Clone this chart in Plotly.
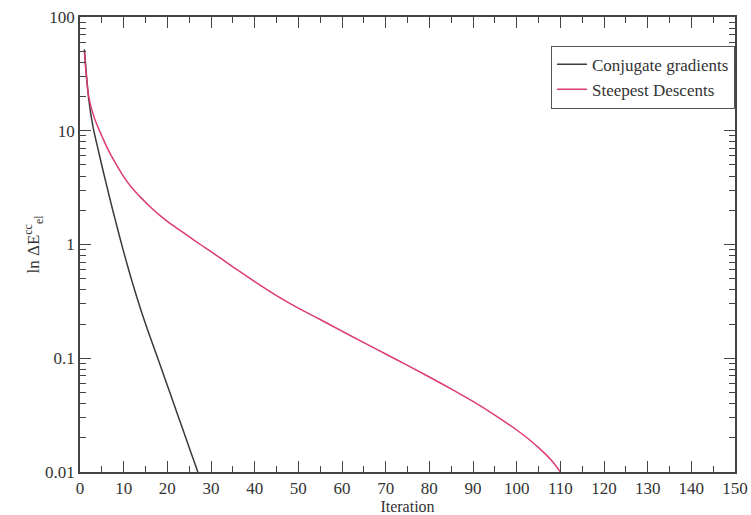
import plotly.graph_objects as go

# Convergence of the electronic energy error per iteration
cg_iter = list(range(1, 28))
cg_energy = [52, 19, 10.7, 7.24, 4.95, 3.43, 2.39, 1.69, 1.20, 0.861, 0.627,
             0.462, 0.346, 0.262, 0.201, 0.156, 0.122, 0.0953, 0.0741, 0.0577,
             0.0449, 0.0349, 0.0272, 0.0211, 0.0164, 0.0128, 0.00995]

sd_iter = [1, 2, 3, 4, 5, 6, 7, 8, 9, 10, 11, 12, 13, 14, 16, 18, 20, 22, 24,
           26, 28, 30, 35, 40, 45, 50, 55, 60, 65, 70, 75, 80, 85, 90, 95,
           100, 103, 106, 108, 110]
sd_energy = [50.1, 20.0, 14.0, 11.0, 9.0, 7.4, 6.2, 5.3, 4.55, 3.95, 3.48,
             3.12, 2.82, 2.57, 2.16, 1.84, 1.60, 1.41, 1.245, 1.10, 0.975,
             0.865, 0.637, 0.472, 0.356, 0.276, 0.219, 0.173, 0.137, 0.109,
             0.0867, 0.0684, 0.0537, 0.0417, 0.0316, 0.0234, 0.0191, 0.0151,
             0.0126, 0.0100]

x_ticks = list(range(0, 151, 10))
x_minor = list(range(5, 150, 10))
y_ticks = [0.01, 0.1, 1, 10, 100]
y_labels = ["0.01", "0.1", "1", "10", "100"]
y_minor = [m * 10 ** e for e in range(-2, 2) for m in range(2, 10)]

font_family = "'Liberation Serif', 'Times New Roman', 'DejaVu Serif', serif"
axis_color = "#444444"

fig = go.Figure()
fig.add_trace(go.Scatter(
    x=cg_iter, y=cg_energy, mode="lines", name="Conjugate gradients",
    line=dict(color="#3a3a3a", width=1.5, shape="spline", smoothing=0.8),
))
fig.add_trace(go.Scatter(
    x=sd_iter, y=sd_energy, mode="lines", name="Steepest Descents",
    line=dict(color="#dc3c6c", width=1.5, shape="spline", smoothing=1.0),
))

fig.update_layout(
    width=751, height=515,
    margin=dict(l=80, r=16, t=17, b=43),
    paper_bgcolor="white", plot_bgcolor="white",
    font=dict(family=font_family, size=17, color="#333333"),
    showlegend=True,
    legend=dict(
        x=1, xanchor="right", y=0.937, yanchor="top",
        bordercolor="#555555", borderwidth=1, bgcolor="white",
        font=dict(family=font_family, size=17, color="#333333"),
        itemwidth=30, tracegroupgap=0,
    ),
    xaxis=dict(
        range=[0, 150], tickmode="array", tickvals=x_ticks,
        ticks="inside", ticklen=11, tickwidth=1.3, tickcolor=axis_color,
        minor=dict(tickmode="array", tickvals=x_minor, ticks="inside",
                   ticklen=6, tickwidth=1.3, tickcolor=axis_color),
        showline=True, linecolor=axis_color, linewidth=1.5, mirror="allticks",
        showgrid=False, zeroline=False, automargin=False,
        tickfont=dict(size=17),
        title=dict(text="Iteration", font=dict(size=16), standoff=5),
    ),
    yaxis=dict(
        type="log", range=[-2, 2], tickmode="array",
        tickvals=y_ticks, ticktext=y_labels,
        ticks="inside", ticklen=11, tickwidth=1.3, tickcolor=axis_color,
        minor=dict(tickmode="array", tickvals=y_minor, ticks="inside",
                   ticklen=6, tickwidth=1.3, tickcolor=axis_color),
        showline=True, linecolor=axis_color, linewidth=1.5, mirror="allticks",
        showgrid=False, zeroline=False, automargin=False,
        tickfont=dict(size=17),
        title=dict(text="ln ΔE<sup>cc</sup><sub>el</sub>",
                   font=dict(size=17), standoff=1),
    ),
)

fig.write_html("out.html")
